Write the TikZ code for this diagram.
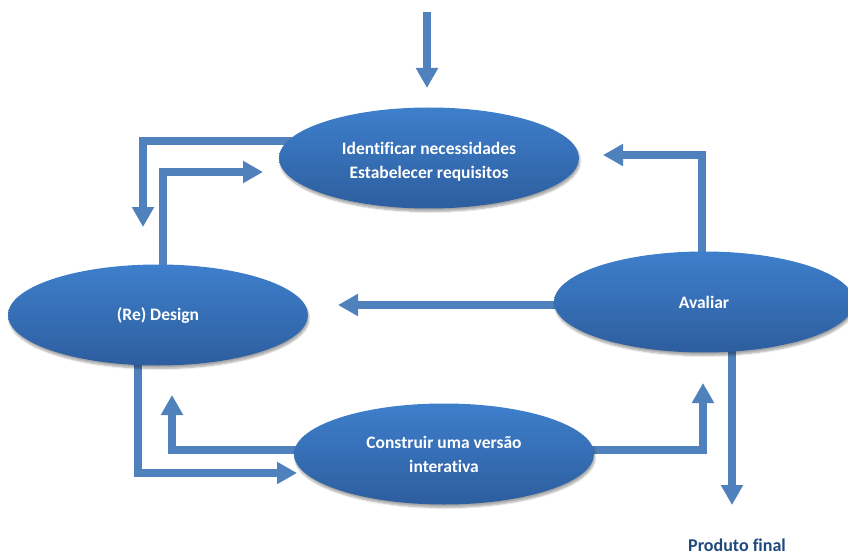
\documentclass[tikz,border=0pt]{standalone}
\usepackage{fontspec}
\setmainfont{Carlito}[Ligatures=NoCommon]
\usetikzlibrary{shapes.geometric,arrows.meta,shadows.blur}
\definecolor{ellTop}{RGB}{62,127,204}
\definecolor{ellBot}{RGB}{45,94,158}
\definecolor{flow}{RGB}{79,129,189}
\definecolor{labelblue}{RGB}{31,73,125}
\pgfdeclarelayer{bg}
\pgfsetlayers{bg,main}
\tikzset{
  stage/.style={ellipse, minimum width=300pt, minimum height=101pt, inner sep=0pt,
    top color=ellTop, bottom color=ellBot, draw=none,
    blur shadow={shadow xshift=1pt, shadow yshift=-3pt, shadow opacity=35, shadow blur steps=6},
    text=white, align=center, font=\bfseries\fontsize{17.5}{24}\selectfont},
  flowarrow/.style={draw=flow, line width=8pt, line join=miter,
    -{Triangle[width=21pt,length=20pt]}},
  outlabel/.style={text=labelblue, inner sep=0pt, font=\bfseries\fontsize{18}{22}\selectfont}
}
\begin{document}
\begin{tikzpicture}[x=1pt,y=-1pt]
\useasboundingbox (0,0) rectangle (848,556);
% stages of the cycle
\node[stage] (req) at (429,158) {\raisebox{-4pt}[\height][\depth]{\begin{tabular}{@{}c@{}}Identificar necessidades\\Estabelecer requisitos\end{tabular}}};
\node[stage] (des) at (158,315) {(Re) Design};
\node[stage] (ava) at (704,302) {Avaliar};
\node[stage] (con) at (444,454) {Construir uma versão\\interativa};
\node[outlabel, anchor=base] (prod) at (737,551) {Produto final};
% free ends of the arrows
\coordinate (start) at (427,12);
\coordinate (tipA) at (427,88);
\coordinate (tipB) at (143,227);
\coordinate (tipC) at (263,172);
\coordinate (tipD) at (603,155);
\coordinate (tipE) at (338,305);
\coordinate (tipF) at (732,505);
\coordinate (tipG) at (703,383);
\coordinate (tipH) at (297,473);
\coordinate (tipI) at (172,395);
\begin{pgfonlayer}{bg}
  \draw[flowarrow] (start) -- (tipA);
  \draw[flowarrow] ([yshift=17pt]req.center) -| (tipB);
  \draw[flowarrow] ([xshift=5pt]des.center) |- (tipC);
  \draw[flowarrow] ([xshift=-2pt]ava.center) |- (tipD);
  \draw[flowarrow] ([yshift=-3pt]ava.center) -- (tipE);
  \draw[flowarrow] ([xshift=28pt]ava.center) -- (tipF);
  \draw[flowarrow] ([yshift=4pt]con.center) -| (tipG);
  \draw[flowarrow] ([xshift=-20pt]des.center) |- (tipH);
  \draw[flowarrow] ([yshift=4pt]con.center) -| (tipI);
\end{pgfonlayer}
\end{tikzpicture}
\end{document}
